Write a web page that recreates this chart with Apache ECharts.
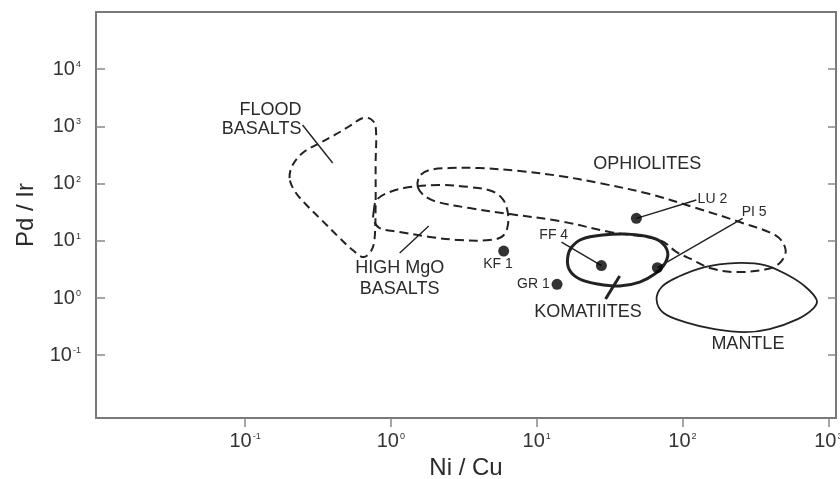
<!DOCTYPE html>
<html>
<head>
<meta charset="utf-8">
<script src="https://cdn.jsdelivr.net/npm/echarts@6/dist/echarts.min.js"></script>
<style>
  html, body { margin: 0; padding: 0; background: #fff; }
  #chart { width: 840px; height: 479px; }
</style>
</head>
<body>
<div id="chart"></div>
<script>
// Field outlines in (Ni/Cu, Pd/Ir) space
const floodBasalts = [[0.202,125],[0.212,211],[0.248,343],[0.315,492],[0.412,708],[0.522,1016],[0.641,1403],[0.727,1347],[0.786,1016],[0.786,211],[0.786,42.3],[0.774,11.2],[0.738,6.9],[0.651,5.2],[0.547,6.9],[0.438,11.7],[0.335,23.1],[0.260,44.0],[0.219,74.2]];
const highMgOBasalts = [[0.762,31.9],[0.799,51.7],[0.981,71.3],[1.35,87.2],[2.16,94.5],[3.47,87.2],[4.91,74.2],[5.85,53.8],[6.33,31.9],[6.33,18.1],[5.85,12.1],[4.76,10.3],[2.96,10.3],[1.85,11.7],[1.15,14.3],[0.838,16.7],[0.762,23.1]];
const ophiolites = [[1.53,87.2],[1.71,60.7],[2.09,47.7],[3.47,37.4],[6.53,29.4],[14.4,22.2],[31.7,14.3],[69.8,10.3],[91.2,6.37],[118,4.62],[154,3.35],[228,2.85],[384,3.21],[472,4.26],[510,6.91],[443,12.1],[247,21.3],[118,39.0],[59.6,65.8],[27.0,102],[14.4,136],[7.65,166],[4.06,187],[2.53,187],[1.85,173],[1.58,136]];
const komatiites = [[16.3,5.00],[17.4,7.79],[20.7,10.8],[28.4,12.6],[40.1,13.1],[55.1,12.1],[69.8,9.92],[79.1,6.37],[75.5,3.93],[64.5,2.63],[50.9,1.90],[37.1,1.62],[26.2,1.76],[19.7,2.15],[16.8,3.09]];
const mantle = [[66.5,0.923],[72.0,1.56],[92.7,2.33],[142,3.48],[228,4.09],[366,3.78],[527,2.52],[700,1.56],[833,0.923],[794,0.669],[617,0.429],[396,0.287],[267,0.254],[166,0.287],[104,0.380],[74.3,0.547]];

// Samples
const sampleNames = ['LU 2', 'PI 5', 'FF 4', 'KF 1', 'GR 1'];
const sampleNiCu = [48.3, 67.3, 27.8, 5.94, 13.8];
const samplePdIr = [24.7, 3.39, 3.70, 6.63, 1.74];

// Leader lines: [x1, y1, x2, y2]
const thinLeaders = [
  [0.248, 1058, 0.399, 229],
  [1.82, 18.1, 1.15, 6.12],
  [48.3, 24.7, 124.5, 51.7],
  [67.3, 3.39, 259, 24.7],
  [14.8, 9.53, 27.8, 3.70]
];
const thickLeaders = [[37.1, 2.42, 29.7, 0.961]];

// Text anchors: [text, Ni/Cu, Pd/Ir]
const fieldLabels = [
  ['FLOOD\nBASALTS', 0.244, 1294],
  ['OPHIOLITES', 57.3, 223],
  ['HIGH MgO\nBASALTS', 1.149, 2.19],
  ['KOMATIITES', 22.5, 0.569],
  ['MANTLE', 281, 0.157]
];
const sampleLabels = [
  ['LU 2', 127, 53.8],
  ['PI 5', 255, 31.2],
  ['FF 4', 13.1, 12.6],
  ['KF 1', 5.43, 3.93],
  ['GR 1', 12.3, 1.76]
];

// Axis ticks
const xTicks = [0.1, 1, 10, 100, 1000];
const yTicks = [0.1, 1, 10, 100, 1000, 10000];

const FONT = '"Liberation Sans", Arial, Helvetica, sans-serif';
const INK = '#222';
const labelAlign = { 'FLOOD\nBASALTS': 'right', 'LU 2': 'left', 'PI 5': 'left', 'GR 1': 'right' };
const labelLineHeight = { 'FLOOD\nBASALTS': 19, 'HIGH MgO\nBASALTS': 21 };

function fieldSeries(pts, lineWidth, dash) {
  return {
    type: 'custom',
    coordinateSystem: 'cartesian2d',
    silent: true,
    data: pts,
    renderItem(params, api) {
      if (params.dataIndex !== 0) return null;
      const points = pts.map(p => api.coord(p));
      return {
        type: 'polygon',
        shape: { points, smooth: 0.35 },
        style: { fill: 'none', stroke: INK, lineWidth, lineDash: dash || null }
      };
    }
  };
}

function leaderSeries(list, lineWidth) {
  return {
    type: 'custom',
    coordinateSystem: 'cartesian2d',
    silent: true,
    data: list,
    renderItem(params, api) {
      const a = api.coord([api.value(0), api.value(1)]);
      const b = api.coord([api.value(2), api.value(3)]);
      return {
        type: 'line',
        shape: { x1: a[0], y1: a[1], x2: b[0], y2: b[1] },
        style: { stroke: INK, lineWidth }
      };
    }
  };
}

function textSeries(list, fontSize) {
  return {
    type: 'custom',
    coordinateSystem: 'cartesian2d',
    silent: true,
    data: list.map(l => [l[1], l[2], l[0]]),
    renderItem(params, api) {
      const item = list[params.dataIndex];
      const p = api.coord([item[1], item[2]]);
      return {
        type: 'text',
        x: p[0],
        y: p[1],
        style: {
          text: item[0],
          fill: '#2a2a2a',
          fontSize,
          fontFamily: FONT,
          align: labelAlign[item[0]] || 'center',
          verticalAlign: 'middle',
          lineHeight: labelLineHeight[item[0]] || fontSize
        }
      };
    }
  };
}

const tickLabel = {
  fontFamily: FONT,
  formatter: v => '{b|10}{s|' + Math.round(Math.log10(v)) + '}',
  rich: {
    b: { fontSize: 20, fontFamily: FONT, color: '#333' },
    s: { fontSize: 9, fontFamily: FONT, color: '#333', verticalAlign: 'top', padding: [1, 0, 0, 1] }
  }
};

const frameLine = { show: true, lineStyle: { color: '#7a7a7a', width: 2 } };
const tickStyle = { color: '#888', width: 1.5 };

const option = {
  animation: false,
  backgroundColor: '#fff',
  grid: { left: 96, right: 4, top: 12, bottom: 61, containLabel: false, outerBoundsMode: 'none' },
  xAxis: [
    {
      type: 'log', logBase: 10, min: 0.0095, max: 1130, position: 'bottom',
      axisLine: frameLine,
      axisTick: { show: true, inside: false, length: 9, customValues: xTicks, lineStyle: tickStyle },
      axisLabel: Object.assign({ margin: 13, customValues: xTicks }, tickLabel),
      splitLine: { show: false },
      name: 'Ni / Cu', nameLocation: 'middle', nameGap: 36,
      nameTextStyle: { fontSize: 24, fontFamily: FONT, color: '#2a2a2a' }
    },
    {
      type: 'log', logBase: 10, min: 0.0095, max: 1130, position: 'top',
      axisLine: frameLine, axisTick: { show: false }, axisLabel: { show: false }, splitLine: { show: false }
    }
  ],
  yAxis: [
    {
      type: 'log', logBase: 10, min: 0.008, max: 100000, position: 'left',
      axisLine: frameLine,
      axisTick: { show: true, inside: true, length: 9, customValues: yTicks, lineStyle: tickStyle },
      axisLabel: Object.assign({ margin: 15, customValues: yTicks }, tickLabel),
      splitLine: { show: false },
      name: 'Pd / Ir', nameLocation: 'middle', nameRotate: 90, nameGap: 58,
      nameTextStyle: { fontSize: 24, fontFamily: FONT, color: '#2a2a2a' }
    },
    {
      type: 'log', logBase: 10, min: 0.008, max: 100000, position: 'right',
      axisLine: frameLine,
      axisTick: { show: true, inside: true, length: 8, customValues: yTicks, lineStyle: tickStyle },
      axisLabel: { show: false }, splitLine: { show: false }
    }
  ],
  series: [
    fieldSeries(floodBasalts, 2, [8, 5]),
    fieldSeries(highMgOBasalts, 2, [9, 5]),
    fieldSeries(ophiolites, 2, [9, 5]),
    fieldSeries(komatiites, 3),
    fieldSeries(mantle, 1.8),
    leaderSeries(thinLeaders, 1.4),
    leaderSeries(thickLeaders, 3),
    {
      type: 'scatter',
      silent: true,
      symbol: 'circle',
      symbolSize: 11,
      itemStyle: { color: '#000' },
      data: sampleNames.map((n, i) => [sampleNiCu[i], samplePdIr[i]])
    },
    textSeries(fieldLabels, 18),
    textSeries(sampleLabels, 14)
  ]
};

const chart = echarts.init(document.getElementById('chart'), null, { renderer: 'canvas' });
chart.setOption(option);
</script>
</body>
</html>
